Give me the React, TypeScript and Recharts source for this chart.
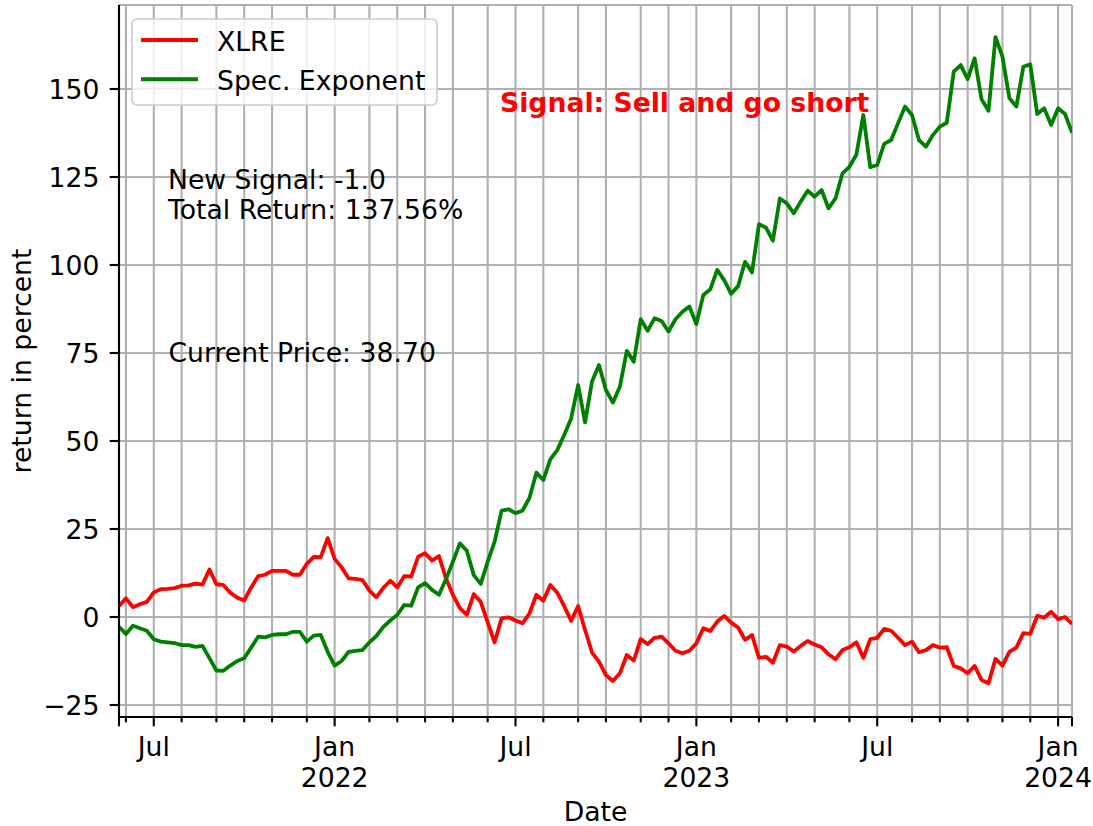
import React from 'react';
import { LineChart, Line, XAxis, YAxis, CartesianGrid } from 'recharts';

// weekly returns in percent, first Monday May 31 2021 -> Jan 15 2024
const xlre = [
  3.1, 5.3, 2.8, 3.6, 4.3, 7.0, 7.9, 8.0, 8.2, 8.9,
  9.0, 9.5, 9.2, 13.5, 9.3, 9.1, 6.9, 5.5, 4.7, 8.4,
  11.6, 12.0, 13.1, 13.1, 13.1, 12.0, 12.0, 15.1, 17.1, 17.0,
  22.4, 16.5, 14.1, 11.0, 10.8, 10.5, 7.5, 5.6, 8.3, 10.3,
  8.4, 11.6, 11.5, 17.1, 18.1, 16.0, 17.3, 11.0, 6.3, 2.5,
  0.6, 6.5, 4.3, -1.5, -7.2, -0.4, -0.1, -1.0, -1.8, 1.0,
  6.3, 4.6, 9.1, 6.9, 3.1, -1.1, 3.1, -3.7, -10.1, -12.7,
  -16.5, -18.2, -16.0, -10.8, -12.4, -6.3, -7.7, -5.9, -5.6, -7.5,
  -9.6, -10.3, -9.6, -7.5, -3.2, -4.0, -1.3, 0.3, -1.6, -3.0,
  -6.5, -5.1, -11.6, -11.3, -13.0, -8.0, -8.4, -9.8, -8.2, -6.8,
  -7.8, -8.6, -10.6, -12.0, -9.4, -8.6, -7.2, -11.6, -6.3, -5.9,
  -3.4, -3.9, -5.9, -8.0, -7.0, -10.0, -9.4, -8.0, -8.7, -8.6,
  -13.9, -14.6, -16.0, -13.9, -17.9, -18.8, -11.9, -13.8, -9.9, -8.7,
  -4.6, -4.8, 0.3, -0.2, 1.5, -0.6, 0.0, -2.0,
];

const specExp = [
  -2.8, -4.8, -2.5, -3.2, -3.9, -6.3, -7.0, -7.2, -7.4, -8.0,
  -8.0, -8.5, -8.2, -11.7, -15.2, -15.3, -13.8, -12.5, -11.7, -8.7,
  -5.6, -5.8, -5.1, -4.9, -4.9, -4.2, -4.2, -7.0, -5.3, -5.1,
  -9.9, -13.8, -12.5, -9.9, -9.6, -9.4, -7.2, -5.4, -2.8, -1.0,
  0.6, 3.4, 3.2, 8.4, 9.6, 7.7, 6.3, 10.7, 15.7, 20.9,
  18.8, 11.9, 9.4, 15.7, 21.4, 30.2, 30.6, 29.5, 30.2, 33.8,
  41.0, 38.9, 44.8, 47.4, 51.7, 56.4, 65.9, 55.3, 66.9, 71.6,
  64.5, 60.9, 65.4, 75.6, 72.5, 84.6, 81.3, 84.9, 84.1, 81.1,
  84.6, 86.7, 88.2, 83.2, 91.5, 93.1, 98.6, 95.7, 91.8, 94.0,
  100.9, 97.9, 111.6, 110.6, 106.9, 118.9, 117.5, 114.7, 118.0, 121.1,
  119.4, 121.3, 116.1, 118.9, 126.0, 127.9, 131.3, 142.6, 127.8, 128.4,
  134.4, 135.5, 140.3, 145.0, 142.6, 135.5, 133.6, 136.9, 139.3, 140.4,
  154.9, 156.8, 152.8, 158.7, 147.1, 143.8, 164.7, 159.2, 147.4, 145.0,
  156.3, 157.0, 142.9, 144.5, 139.8, 144.5, 142.9, 137.6,
];

// week index of the first Monday of each month (plus both ends)
const monthTicks = [0, 1, 5, 9, 14, 18, 22, 27, 31, 36, 40, 44, 48, 53, 57, 61, 66, 70, 75, 79, 83, 88, 92, 96, 100, 105, 109, 114, 118, 122, 127, 131, 135, 137];
const majorTicks = [0, 5, 31, 57, 83, 109, 135, 137];
const tickLabels: Record<number, string[]> = {
  5: ['Jul'],
  31: ['Jan', '2022'],
  57: ['Jul'],
  83: ['Jan', '2023'],
  109: ['Jul'],
  135: ['Jan', '2024'],
};
const yTicks = [-25, 0, 25, 50, 75, 100, 125, 150];

const seriesNames = ['XLRE', 'Spec. Exponent'];
const seriesColors = ['#ff0000', '#008000'];

const rows = xlre.map((v, i) => ({ i, xlre: v, spec: specExp[i] }));

const FONT = '"DejaVu Sans", sans-serif';
const FS = 26.67;

const XTick = (props: any) => {
  const { x, y, payload } = props;
  const v = payload.value;
  const len = majorTicks.includes(v) ? 9.3 : 5.3;
  const lab = tickLabels[v];
  return (
    <g>
      <line x1={x} x2={x} y1={y} y2={y + len} stroke="#000" strokeWidth={2.1} />
      {lab && lab.map((t, k) => (
        <text key={k} x={x} y={y + 38.5 + k * 31} textAnchor="middle" fontFamily={FONT} fontSize={FS} fill="#000">{t}</text>
      ))}
    </g>
  );
};

const YTick = (props: any) => {
  const { x, y, payload } = props;
  const lab = payload.value < 0 ? '\u2212' + Math.abs(payload.value) : String(payload.value);
  return (
    <g>
      <line x1={x - 9.3} x2={x} y1={y} y2={y} stroke="#000" strokeWidth={2.1} />
      <text x={x - 19.5} y={y + 9.7} textAnchor="end" fontFamily={FONT} fontSize={FS} fill="#000">{lab}</text>
    </g>
  );
};

// legend frame drawn inside the svg so it does not shrink the plot area
const LegendBox = () => (
  <g>
    <rect x={132} y={19} width={305} height={86} rx={5} ry={5} fill="#ffffff" fillOpacity={0.8} stroke="#cccccc" strokeWidth={1.6} />
    {seriesNames.map((n, k) => (
      <g key={n}>
        <line x1={141} x2={198} y1={40 + k * 39.3} y2={40 + k * 39.3} stroke={seriesColors[k]} strokeWidth={4} />
        <text x={217} y={50.7 + k * 38.8} fontFamily={FONT} fontSize={FS} fill="#000">{n}</text>
      </g>
    ))}
  </g>
);

export default function App() {
  return (
    <div style={{ position: 'absolute', left: 0, top: 0, width: 1093, height: 826, background: '#fff' }}>
      <LineChart width={1093} height={826} data={rows} margin={{ top: 5, right: 21, bottom: 0, left: 0 }}>
        <CartesianGrid stroke="#b0b0b0" strokeWidth={2.1} />
        <XAxis
          dataKey="i"
          type="number"
          domain={[0, 137]}
          ticks={monthTicks}
          interval={0}
          height={109}
          tickSize={0}
          tickMargin={0}
          tickLine={false}
          tick={<XTick />}
          axisLine={{ stroke: '#000', strokeWidth: 2.1 }}
          allowDataOverflow
        />
        <XAxis xAxisId="top" orientation="top" type="number" domain={[0, 137]} height={0} ticks={[]} tick={false} tickLine={false} axisLine={{ stroke: '#000', strokeWidth: 2.1 }} />
        <YAxis
          type="number"
          domain={[-28.41, 173.86]}
          ticks={yTicks}
          interval={0}
          width={119}
          tickSize={0}
          tickMargin={0}
          tickLine={false}
          tick={<YTick />}
          axisLine={{ stroke: '#000', strokeWidth: 2.1 }}
          allowDataOverflow
        />
        <YAxis yAxisId="right" orientation="right" type="number" domain={[-28.41, 173.86]} width={0} ticks={[]} tick={false} tickLine={false} axisLine={{ stroke: '#000', strokeWidth: 2.1 }} />
        <Line dataKey="xlre" name={seriesNames[0]} stroke={seriesColors[0]} strokeWidth={3.8} dot={false} strokeLinejoin="round" isAnimationActive={false} />
        <Line dataKey="spec" name={seriesNames[1]} stroke={seriesColors[1]} strokeWidth={3.8} dot={false} strokeLinejoin="round" isAnimationActive={false} />
        <LegendBox />
        <text x={168} y={188.5} fontFamily={FONT} fontSize={FS} fill="#000">New Signal: -1.0</text>
        <text x={168} y={218.5} fontFamily={FONT} fontSize={FS} fill="#000">Total Return: 137.56%</text>
        <text x={168.5} y={362} fontFamily={FONT} fontSize={FS} fill="#000">Current Price: 38.70</text>
        <text x={500} y={112.3} fontFamily={FONT} fontSize={FS} fontWeight="bold" fill="#ff0000">Signal: Sell and go short</text>
        <text x={595.5} y={821} textAnchor="middle" fontFamily={FONT} fontSize={FS} fill="#000">Date</text>
        <text x={31} y={361} textAnchor="middle" transform="rotate(-90, 31, 361)" fontFamily={FONT} fontSize={FS} fill="#000">return in percent</text>
      </LineChart>
    </div>
  );
}
